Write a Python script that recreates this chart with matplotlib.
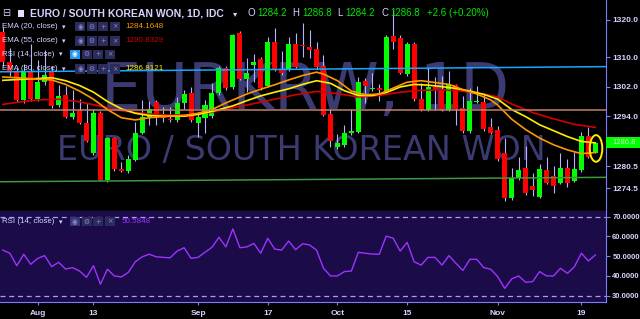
import numpy as np
import pandas as pd
import matplotlib
matplotlib.use('Agg')
import matplotlib.pyplot as plt
from matplotlib.patches import Rectangle, Ellipse

plt.rcParams['font.family'] = ['Liberation Sans', 'DejaVu Sans']

# daily candles, 2018-07-25 .. 2018-11-21 (index 0 = Aug 1)
dates = pd.bdate_range('2018-07-25', '2018-11-21')
xs = np.arange(len(dates)) - 5

opens = [1316.8, 1308.7, 1306.0, 1298.4, 1306.0,
         1298.6, 1303.3, 1306.0, 1297.0, 1299.7, 1293.7, 1295.4, 1292.1, 1284.1, 1295.0,
         1276.8, 1288.0, 1279.7, 1279.2, 1282.2, 1289.6, 1293.7, 1297.8, 1294.0, 1293.2,
         1293.0, 1297.6, 1300.2, 1292.1, 1293.6, 1294.1, 1300.2, 1307.0, 1301.8, 1316.4,
         1304.0, 1307.8, 1309.5, 1302.2, 1314.0, 1306.7, 1306.7, 1313.4, 1313.2, 1312.8,
         1312.1, 1307.6, 1294.5, 1285.6, 1286.2, 1289.4, 1289.8, 1303.5, 1301.3, 1301.7,
         1300.9, 1315.7, 1315.2, 1305.4, 1313.5, 1298.6, 1295.7, 1301.8, 1301.4, 1295.7,
         1302.4, 1296.3, 1290.0, 1297.8, 1297.9, 1291.0, 1290.3, 1284.0, 1271.8, 1277.2,
         1280.1, 1275.2, 1272.3, 1279.6, 1277.9, 1276.0, 1280.1, 1276.6, 1279.5, 1288.6,
         1284.2]
highs = [1318.0, 1312.5, 1307.0, 1308.0, 1313.5,
         1309.2, 1311.9, 1307.5, 1302.4, 1302.2, 1301.1, 1298.6, 1297.6, 1296.0, 1295.5,
         1288.5, 1288.5, 1281.7, 1283.5, 1292.5, 1298.4, 1298.0, 1298.5, 1296.6, 1296.6,
         1299.1, 1301.0, 1301.8, 1295.2, 1298.5, 1302.9, 1307.5, 1307.5, 1316.2, 1317.1,
         1309.6, 1310.7, 1310.0, 1315.5, 1317.8, 1311.6, 1315.5, 1316.4, 1319.1, 1317.3,
         1314.0, 1310.5, 1295.9, 1289.2, 1291.6, 1295.9, 1304.7, 1304.2, 1305.6, 1302.7,
         1316.0, 1322.7, 1315.9, 1314.1, 1314.0, 1302.9, 1306.9, 1304.5, 1304.9, 1306.3,
         1302.8, 1299.5, 1301.5, 1302.3, 1300.0, 1293.4, 1291.4, 1288.0, 1279.9, 1283.1,
         1285.9, 1278.6, 1281.1, 1283.1, 1280.5, 1284.0, 1282.5, 1284.3, 1289.8, 1291.2,
         1286.8]
lows = [1307.5, 1305.0, 1297.8, 1297.5, 1298.0,
        1298.0, 1302.5, 1296.3, 1296.5, 1293.5, 1293.2, 1291.8, 1287.0, 1283.5, 1276.5,
        1276.3, 1279.3, 1279.0, 1278.8, 1281.8, 1289.2, 1291.5, 1291.6, 1292.5, 1292.5,
        1292.5, 1296.0, 1292.5, 1288.5, 1289.4, 1293.6, 1299.8, 1301.0, 1301.3, 1303.8,
        1300.6, 1303.3, 1301.2, 1301.8, 1306.3, 1305.2, 1306.3, 1307.0, 1310.1, 1309.6,
        1306.8, 1294.0, 1285.6, 1285.2, 1285.8, 1289.0, 1289.4, 1297.5, 1300.9, 1298.2,
        1300.5, 1312.1, 1305.4, 1305.0, 1298.2, 1295.3, 1295.3, 1295.7, 1295.3, 1295.3,
        1291.6, 1289.6, 1289.6, 1297.5, 1290.1, 1289.2, 1281.8, 1271.2, 1271.4, 1276.8,
        1272.8, 1272.5, 1271.9, 1275.6, 1273.2, 1275.6, 1275.0, 1276.2, 1279.0, 1282.7,
        1284.2]
closes = [1308.7, 1306.0, 1298.4, 1306.0, 1298.6,
          1303.3, 1305.1, 1296.8, 1299.5, 1293.9, 1295.0, 1292.2, 1287.4, 1295.0, 1276.8,
          1288.0, 1279.7, 1279.2, 1282.4, 1289.6, 1293.9, 1296.0, 1293.7, 1293.6, 1292.9,
          1297.5, 1299.9, 1293.0, 1293.7, 1297.0, 1300.2, 1307.0, 1301.5, 1315.9, 1304.1,
          1305.6, 1308.6, 1301.7, 1314.0, 1306.7, 1305.6, 1313.5, 1307.4, 1313.0, 1311.9,
          1307.2, 1294.3, 1287.4, 1286.7, 1289.4, 1290.0, 1303.3, 1302.2, 1301.7, 1301.1,
          1315.5, 1314.0, 1305.8, 1313.4, 1298.6, 1295.7, 1301.8, 1301.3, 1295.7, 1302.7,
          1295.9, 1290.0, 1298.1, 1298.0, 1290.5, 1289.6, 1282.4, 1271.8, 1277.2, 1279.6,
          1273.2, 1274.1, 1279.7, 1276.0, 1275.1, 1280.1, 1275.9, 1279.7, 1288.6, 1283.1,
          1286.8]

# EMA lines
ema20_x = [-5, -2, 0, 2, 4, 6, 8, 10, 12, 14, 16, 18, 21, 23, 25, 27, 30, 32, 34, 36,
           38, 40, 41, 43, 45, 47, 49, 51, 53, 55, 57, 59, 61, 63, 65, 66, 68, 70, 72, 74,
           76, 78, 80]
ema20_y = [1304.6, 1304.3, 1304.0, 1303.8, 1302.6, 1300.8, 1298.6, 1295.8, 1293.6, 1293.0,
           1293.6, 1293.9, 1294.2, 1294.8, 1295.8, 1297.6, 1300.0, 1301.3, 1302.5, 1303.8,
           1305.0, 1305.9, 1305.4, 1303.6, 1300.8, 1299.8, 1300.0, 1301.6, 1303.2, 1303.6,
           1303.1, 1302.6, 1301.2, 1300.0, 1298.4, 1297.0, 1293.2, 1290.4, 1288.1, 1286.3,
           1284.9, 1283.9, 1284.2]
ema30_x = [-5, -2, 0, 2, 4, 6, 8, 10, 12, 14, 16, 18, 21, 23, 25, 28, 30, 32, 34, 36,
           38, 40, 42, 44, 46, 48, 50, 52, 54, 56, 58, 60, 62, 64, 66, 68, 70, 72, 74, 76,
           78, 80]
ema30_y = [1303.7, 1304.0, 1304.2, 1304.4, 1303.6, 1302.3, 1300.5, 1298.0, 1296.0, 1294.8,
           1294.2, 1294.0, 1294.0, 1294.5, 1295.3, 1296.8, 1298.2, 1299.5, 1300.5, 1301.4,
           1302.6, 1303.6, 1302.9, 1300.9, 1299.6, 1299.6, 1300.4, 1301.9, 1302.6, 1302.4,
           1302.0, 1301.5, 1300.8, 1299.9, 1298.6, 1295.8, 1293.9, 1291.7, 1290.1, 1288.5,
           1287.2, 1286.8]
ema55_x = [-5, -2, 0, 3, 6, 9, 12, 14, 16, 19, 22, 25, 28, 31, 34, 37, 40, 43, 46, 49,
           52, 55, 58, 61, 64, 66, 68, 71, 74, 77, 80]
ema55_y = [1297.2, 1298.0, 1298.4, 1298.6, 1297.9, 1296.7, 1295.5, 1295.0, 1294.6, 1294.3,
           1294.4, 1295.1, 1296.3, 1297.4, 1298.6, 1299.8, 1300.7, 1300.1, 1299.2, 1299.6,
           1300.5, 1301.0, 1301.1, 1300.8, 1300.0, 1299.2, 1297.3, 1295.0, 1293.3, 1291.8,
           1291.0]

rsi = [53.1, 51.5, 45.2, 51.0, 45.9,
       48.9, 50.3, 44.7, 46.9, 43.5, 44.2, 42.5, 39.3, 45.2, 35.8,
       43.4, 40.0, 39.5, 41.8, 47.2, 49.7, 51.0, 49.7, 49.4, 49.2,
       52.6, 54.3, 48.9, 49.4, 52.0, 54.5, 59.6, 54.7, 63.8, 54.3,
       54.7, 56.5, 51.5, 59.1, 53.6, 53.1, 57.7, 53.3, 56.3, 55.7,
       53.1, 43.9, 40.0, 40.0, 42.2, 42.5, 52.0, 51.5, 51.1, 51.0,
       60.2, 59.1, 52.6, 57.0, 47.2, 45.5, 49.4, 49.4, 45.5, 50.3,
       46.4, 42.8, 48.4, 48.4, 44.2, 43.4, 39.6, 33.7, 38.5, 40.0,
       36.8, 37.1, 42.2, 40.0, 40.0, 43.9, 41.3, 44.7, 51.5, 47.6,
       50.6]

# drawn lines (value at left and right edge)
blue_line = [1306.0, 1307.4]
green_line = [1276.3, 1277.5]
brown_level = 1295.6

tick_dates = ['2018-08-01', '2018-08-13', '2018-09-03', '2018-09-17',
              '2018-10-01', '2018-10-15', '2018-11-01', '2018-11-19']
tick_labels = ['Aug', '13', 'Sep', '17', 'Oct', '15', 'Nov', '19']
price_ticks = [1320.0, 1310.0, 1302.0, 1294.0, 1280.5, 1274.5]
rsi_ticks = [70, 60, 50, 40, 30]

AXC = '#7d7dff'
TXT = '#d4d4ff'
XL = (-5.41, 81.53)

fig = plt.figure(figsize=(6.4, 3.19), dpi=100, facecolor='black')
ax = fig.add_axes([0, 108 / 319, 606 / 640, 211 / 319], facecolor='black')
ax2 = fig.add_axes([0, 17 / 319, 606 / 640, 91 / 319], facecolor='#1b0b48')

o = np.array(opens); h = np.array(highs); l = np.array(lows); c = np.array(closes)
up = c >= o
cols = np.where(up, '#00ff00', '#ff0000')
ax.vlines(xs, l, h, color='#b4b4ff', lw=0.8, zorder=2)
ax.bar(xs, np.maximum(np.abs(c - o), 0.35), bottom=np.minimum(o, c), width=0.72,
       color=cols, linewidth=0, zorder=3)

ax.plot(ema55_x, ema55_y, color='#d40000', lw=1.2, zorder=4)
ax.plot(ema30_x, ema30_y, color='#ffee00', lw=1.2, zorder=4)
ax.plot(ema20_x, ema20_y, color='#ff9800', lw=1.2, zorder=4)

ax.plot(XL, blue_line, color='#16a8ff', lw=1.1, zorder=5)
ax.plot(XL, green_line, color='#3f973f', lw=1.1, zorder=5)
ax.axhline(brown_level, color='#c0826a', lw=1.1, zorder=5)
ax.add_patch(Ellipse((80.1, 1285.3), 1.8, 7.2, fill=False, ec='#ffee00', lw=1.4, zorder=6))

# watermark
ax.text(0.503, 0.571, 'EURKRW, 1D', transform=ax.transAxes, ha='center', va='center',
        fontsize=46, color='#3b3b72', family='DejaVu Sans', zorder=0.5)
ax.text(0.498, 0.287, 'EURO / SOUTH KOREAN WON', transform=ax.transAxes, ha='center',
        va='center', fontsize=24, color='#3b3b72', family='DejaVu Sans', zorder=0.5)

ax.set_xlim(*XL)
ax.set_ylim(1268.4, 1325.4)
ax.yaxis.tick_right()
ax.set_yticks(price_ticks)
ax.set_yticklabels(['%.1f' % v for v in price_ticks], fontweight='bold')
ax.set_xticks([])
ax.tick_params(axis='y', colors=AXC, labelcolor=TXT, length=3, width=0.8,
               labelsize=6, pad=1.5)
for s in ['top', 'left']:
    ax.spines[s].set_visible(False)
for s in ['right', 'bottom']:
    ax.spines[s].set_color(AXC)

# last price label
ax.add_patch(Rectangle((1.0, 1285.5), 34 / 606, 3.0, transform=ax.get_yaxis_transform(),
                       fc='#00ff00', ec='none', clip_on=False, zorder=7))
ax.text(1.0 + 18 / 606, 1287.0, '%.1f' % closes[-1], transform=ax.get_yaxis_transform(),
        ha='center', va='center', fontsize=5.5, color='#c8ffc8', clip_on=False, zorder=8)

# RSI pane
ax2.plot(xs, rsi, color='#9d33ff', lw=1.0, zorder=3)
for lvl in (70, 30):
    ax2.axhline(lvl, color='#a89cff', lw=0.9, dashes=(4, 3), zorder=2)
ax2.set_xlim(*XL)
ax2.set_ylim(26.8, 72.9)
ax2.yaxis.tick_right()
ax2.set_yticks(rsi_ticks)
ax2.set_yticklabels(['%.4f' % v for v in rsi_ticks], fontweight='bold')
pos = [dates.get_loc(pd.Timestamp(d)) - 5 for d in tick_dates]
ax2.set_xticks(pos)
ax2.set_xticklabels(tick_labels, fontweight='bold')
ax2.tick_params(axis='y', colors=AXC, labelcolor=TXT, length=3, width=0.8,
                labelsize=5.5, pad=1.5)
ax2.tick_params(axis='x', colors=AXC, labelcolor=TXT, length=2.5, width=0.8,
                labelsize=6, pad=3)
for s in ['top', 'left']:
    ax2.spines[s].set_visible(False)
for s in ['right', 'bottom']:
    ax2.spines[s].set_color(AXC)


def ftext(x, y, s, color=TXT, size=5.7, weight='normal', ha='left', family=None):
    kw = {}
    if family:
        kw['family'] = family
    fig.text(x / 640, 1 - y / 319, s, color=color, fontsize=size, fontweight=weight,
             ha=ha, va='center', **kw)


def icon(x, y, glyph, bg='#2b2b5c', fg='#8c8cc4'):
    fig.add_artist(Rectangle((x / 640, 1 - (y + 4.5) / 319), 10 / 640, 9 / 319,
                             transform=fig.transFigure, fc=bg, ec='none', zorder=2))
    ftext(x + 5, y, glyph, color=fg, size=4.8, ha='center', family='DejaVu Sans')


def icons(x0, y, first_bg='#2b2b5c', first_fg='#8c8cc4'):
    icon(x0, y, '◉', bg=first_bg, fg=first_fg)
    icon(x0 + 11.5, y, '⚙')
    icon(x0 + 23, y, '+')
    icon(x0 + 34.5, y, '×')


# header
ftext(2.5, 13.3, '⊟', size=7, family='DejaVu Sans')
fig.add_artist(Rectangle((18 / 640, 1 - 17 / 319), 6 / 640, 7 / 319,
                         transform=fig.transFigure, fc='#e0e0ff', ec='none', zorder=2))
ftext(30, 13.3, 'EURO / SOUTH KOREAN WON, 1D, IDC', size=7.5, weight='bold')
ftext(233, 13.3, '▾', size=6, family='DejaVu Sans')
grn = '#00e600'
for lx, letter, vx, val in [(247, 'O', 257, opens[-1]), (292, 'H', 302, highs[-1]),
                            (337, 'L', 345, lows[-1]), (381, 'C', 390, closes[-1])]:
    ftext(lx, 13.3, letter, size=7)
    ftext(vx, 13.3, '%.1f' % val, color=grn, size=7)
ftext(427, 13.3, '+2.6 (+0.20%)', color=grn, size=7)

rows = [(26.7, 'EMA (20, close)', '1284.1648', '#ff9800'),
        (41.0, 'EMA (55, close)', '1290.8329', '#cc0000'),
        (54.3, 'RSI (14, close)', None, None),
        (69.0, 'EMA (30, close)', '1286.8121', '#ffee00')]
for y, name, val, vc in rows:
    ftext(2.5, y, name)
    if val is None:
        ftext(59, y, '▾', size=5, family='DejaVu Sans')
        icons(70, y, first_bg='#2196f3', first_fg='#ffffff')
    else:
        ftext(62, y, '▾', size=5, family='DejaVu Sans')
        icons(75, y)
        ftext(125, y, val, color=vc, size=5.8)

ftext(2.5, 221.7, 'RSI (14, close)')
ftext(59, 221.7, '▾', size=5, family='DejaVu Sans')
icons(70, 221.7, first_bg='#36367a')
ftext(122, 221.7, '%.4f' % 50.5848, color='#9d33ff', size=5.8)

plt.savefig('out.png', dpi=100, facecolor='black')
